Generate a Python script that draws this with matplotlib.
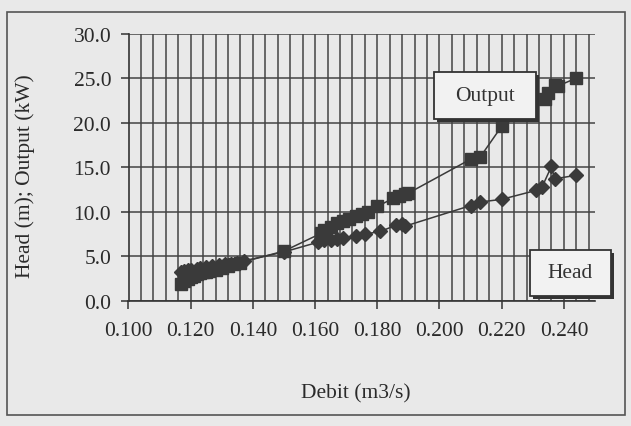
import matplotlib
matplotlib.use("Agg")
import matplotlib.pyplot as plt
from matplotlib.patches import Rectangle
from matplotlib.ticker import MultipleLocator, FormatStrFormatter

# ---- data ----
output_x = [0.117, 0.118, 0.119, 0.120, 0.121, 0.122, 0.123, 0.124, 0.125, 0.126,
            0.128, 0.130, 0.132, 0.134, 0.136, 0.150, 0.162, 0.163, 0.165, 0.167,
            0.169, 0.171, 0.173, 0.175, 0.177, 0.180, 0.185, 0.187, 0.189, 0.190,
            0.210, 0.213, 0.220, 0.234, 0.235, 0.237, 0.238, 0.244]
output_y = [1.9, 2.2, 2.5, 2.7, 2.8, 3.0, 3.1, 3.2, 3.3, 3.4,
            3.5, 3.7, 3.9, 4.1, 4.3, 5.6, 7.6, 8.0, 8.3, 8.7,
            9.0, 9.2, 9.5, 9.8, 10.0, 10.6, 11.5, 11.8, 12.0, 12.1,
            15.9, 16.1, 19.6, 22.7, 23.3, 24.2, 24.1, 25.0]

head_x = [0.117, 0.118, 0.119, 0.120, 0.122, 0.123, 0.125, 0.127, 0.129, 0.131,
          0.133, 0.135, 0.137, 0.150, 0.161, 0.163, 0.165, 0.167, 0.169, 0.173,
          0.176, 0.181, 0.186, 0.188, 0.189, 0.210, 0.213, 0.220, 0.231, 0.233,
          0.236, 0.237, 0.244]
head_y = [3.2, 3.4, 3.5, 3.5, 3.6, 3.7, 3.8, 3.9, 4.0, 4.1,
          4.2, 4.3, 4.5, 5.5, 6.6, 6.8, 6.8, 7.0, 7.1, 7.3,
          7.5, 7.8, 8.5, 8.6, 8.4, 10.7, 11.1, 11.4, 12.4, 12.8,
          15.1, 13.7, 14.1]

x_label = "Debit (m3/s)"
y_label = "Head (m); Output (kW)"
series_labels = ["Output", "Head"]

# ---- styling ----
BG = "#e9e9e9"
INK = "#3a3a3a"
plt.rcParams['font.family'] = ['Liberation Serif', 'DejaVu Serif']

W, H = 631, 427
fig = plt.figure(figsize=(W / 100, H / 100), dpi=100, facecolor=BG)

def fx(px):
    return px / W

def fy(py):
    return 1 - py / H

# outer chart border
fig.add_artist(Rectangle((fx(7), fy(416)), fx(625) - fx(7), fy(13) - fy(416),
                         transform=fig.transFigure, fill=False,
                         edgecolor="#555555", linewidth=1.2))

left, right, top, bottom = 128.5, 595, 34.5, 302
ax = fig.add_axes([fx(left), fy(bottom), fx(right) - fx(left), fy(top) - fy(bottom)])
ax.set_facecolor(BG)

ax.set_xlim(0.100, 0.250)
ax.set_ylim(0, 30)
ax.xaxis.set_major_locator(MultipleLocator(0.02))
ax.xaxis.set_minor_locator(MultipleLocator(0.004))
ax.yaxis.set_major_locator(MultipleLocator(5))
ax.xaxis.set_major_formatter(FormatStrFormatter('%.3f'))
ax.yaxis.set_major_formatter(FormatStrFormatter('%.1f'))

ax.grid(True, which='both', axis='x', color="#444444", linewidth=1.1)
ax.grid(True, which='major', axis='y', color="#444444", linewidth=1.1)
ax.set_axisbelow(True)

for s in ['top', 'right']:
    ax.spines[s].set_visible(False)
for s in ['left', 'bottom']:
    ax.spines[s].set_color("#333333")
    ax.spines[s].set_linewidth(1.2)

ax.tick_params(axis='both', which='major', direction='out', length=5.5, width=1.1,
               color="#333333", labelsize=15.5, labelcolor="#2a2a2a")
ax.tick_params(axis='x', which='major', pad=9)
ax.tick_params(axis='y', which='major', pad=7)
ax.tick_params(axis='x', which='minor', length=0)

ax.plot(output_x, output_y, color=INK, linewidth=1.1, marker='s', markersize=8.5,
        markerfacecolor=INK, markeredgecolor=INK, zorder=3)
ax.plot(head_x, head_y, color=INK, linewidth=1.1, marker='D', markersize=6.8,
        markerfacecolor=INK, markeredgecolor=INK, zorder=3)

# axis titles
fig.text(fx(356), fy(398), x_label, ha='center', va='baseline', fontsize=15.5,
         color="#2a2a2a")
fig.text(fx(25), fy(176), y_label, ha='center', va='center', rotation=90,
         fontsize=15.5, color="#2a2a2a")

# series callout boxes
def callout(x0, y0, x1, y1, text):
    shadow = Rectangle((fx(x0) + fx(2.5), fy(y1) - 2.5 / H), fx(x1) - fx(x0),
                       fy(y0) - fy(y1), transform=fig.transFigure,
                       facecolor="#333333", edgecolor="none", zorder=5)
    box = Rectangle((fx(x0), fy(y1)), fx(x1) - fx(x0), fy(y0) - fy(y1),
                    transform=fig.transFigure, facecolor="#f2f2f2",
                    edgecolor="#333333", linewidth=1.3, zorder=6)
    fig.add_artist(shadow)
    fig.add_artist(box)
    fig.text((fx(x0) + fx(x1)) / 2, (fy(y0) + fy(y1)) / 2, text, ha='center',
             va='center', fontsize=15.5, color="#333333", zorder=7)

callout(434, 73, 536, 120, series_labels[0])
callout(530, 251, 611, 297, series_labels[1])

fig.savefig("out.png", dpi=100, facecolor=BG)
